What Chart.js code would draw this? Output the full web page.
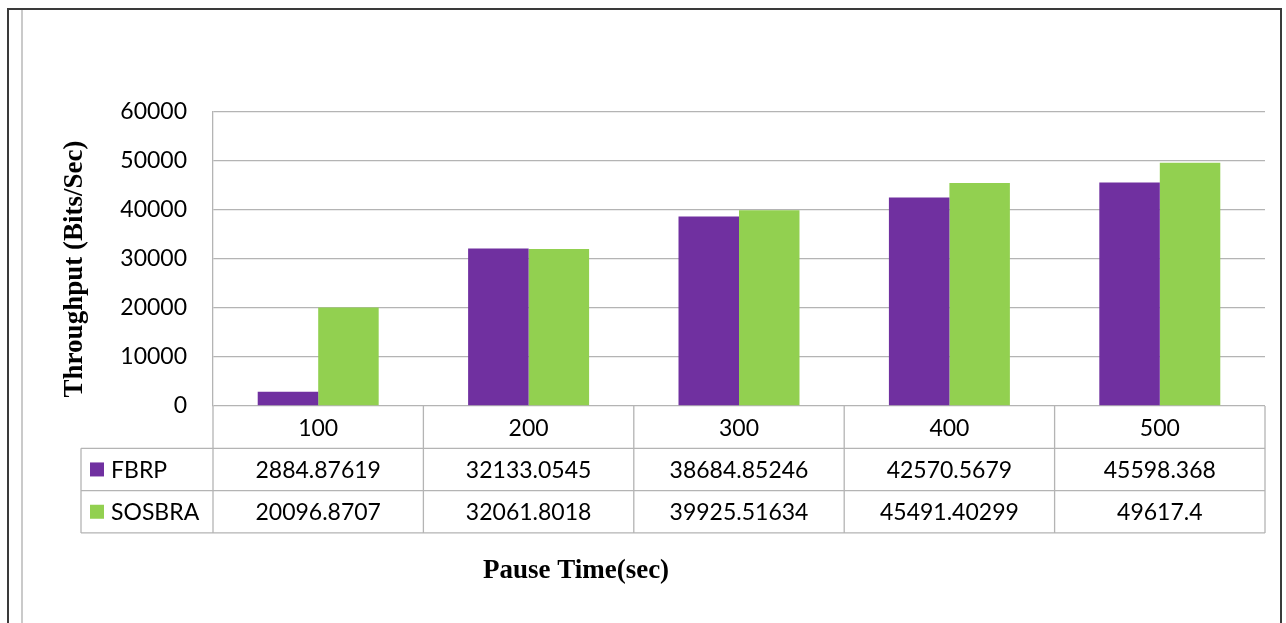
<!DOCTYPE html>
<html>
<head>
<meta charset="utf-8">
<title>Throughput vs Pause Time</title>
<script src="https://cdn.jsdelivr.net/npm/chart.js@4.4.1/dist/chart.umd.min.js"></script>
<style>
  html, body { margin: 0; padding: 0; background: #ffffff; }
  #wrap { width: 1286px; height: 623px; position: relative; }
</style>
</head>
<body>
<div id="wrap"><canvas id="chart" width="1286" height="623"></canvas></div>
<script>
// Pause time categories (sec)
const categories = ['100', '200', '300', '400', '500'];
// Throughput in bits/sec per protocol
const fbrpValues = [2884.87619, 32133.0545, 38684.85246, 42570.5679, 45598.368];
const sosbraValues = [20096.8707, 32061.8018, 39925.51634, 45491.40299, 49617.4];
const seriesNames = ['FBRP', 'SOSBRA'];
const seriesColors = ['#7030A0', '#92D050'];
const yTitle = 'Throughput (Bits/Sec)';
const xTitle = 'Pause Time(sec)';

const tableFont = '23px Lato, "Open Sans", sans-serif';
const lineGray = '#b4b4b4';

// Frame around the figure
const framePlugin = {
  id: 'frame',
  beforeDraw(chart) {
    const ctx = chart.ctx;
    ctx.save();
    ctx.fillStyle = '#ffffff';
    ctx.fillRect(0, 0, chart.width, chart.height);
    ctx.strokeStyle = '#3a3a3a';
    ctx.lineWidth = 2;
    ctx.beginPath();
    ctx.moveTo(8, chart.height);
    ctx.lineTo(8, 9);
    ctx.lineTo(1281, 9);
    ctx.lineTo(1281, chart.height);
    ctx.stroke();
    ctx.strokeStyle = '#b8b8b8';
    ctx.lineWidth = 1.5;
    ctx.beginPath();
    ctx.moveTo(22, 10);
    ctx.lineTo(22, chart.height);
    ctx.stroke();
    ctx.restore();
  }
};

// Data table under the plot plus the axis titles
const tablePlugin = {
  id: 'dataTable',
  afterDraw(chart) {
    const ctx = chart.ctx;
    const area = chart.chartArea;
    const n = categories.length;
    const colW = (area.right - area.left) / n;
    const rowH = 42.3;
    const top = area.bottom;
    const legendLeft = 81;
    const rows = [fbrpValues, sosbraValues];
    ctx.save();
    ctx.strokeStyle = lineGray;
    ctx.lineWidth = 1.3;
    ctx.beginPath();
    // vertical column lines
    for (let i = 0; i <= n; i++) {
      const x = area.left + i * colW;
      ctx.moveTo(x, top);
      ctx.lineTo(x, top + rowH * 3);
    }
    // left edge of the series label column
    ctx.moveTo(legendLeft, top + rowH);
    ctx.lineTo(legendLeft, top + rowH * 3);
    // horizontal row lines
    for (let r = 1; r <= 3; r++) {
      const y = top + r * rowH;
      ctx.moveTo(legendLeft, y);
      ctx.lineTo(area.right, y);
    }
    ctx.stroke();

    ctx.fillStyle = '#000000';
    ctx.font = tableFont;
    ctx.textAlign = 'center';
    ctx.textBaseline = 'middle';
    for (let i = 0; i < n; i++) {
      const cx = area.left + (i + 0.5) * colW;
      ctx.fillText(categories[i], cx, top + rowH * 0.5 + 1);
      rows.forEach((vals, r) => {
        ctx.fillText(String(vals[i]), cx, top + rowH * (r + 1.5) + 1);
      });
    }
    // series keys
    ctx.textAlign = 'left';
    seriesNames.forEach((name, r) => {
      const cy = top + rowH * (r + 1.5);
      ctx.fillStyle = seriesColors[r];
      ctx.fillRect(90, cy - 7, 14, 14);
      ctx.fillStyle = '#000000';
      ctx.fillText(name, 111, cy + 1);
    });

    // axis titles
    ctx.font = 'bold 27px "Liberation Serif", "Times New Roman", serif';
    ctx.textAlign = 'center';
    ctx.textBaseline = 'middle';
    ctx.fillText(xTitle, 576, 571);
    ctx.translate(75, 269);
    ctx.rotate(-Math.PI / 2);
    ctx.fillText(yTitle, 0, 0);
    ctx.restore();
  }
};

new Chart(document.getElementById('chart'), {
  type: 'bar',
  data: {
    labels: categories,
    datasets: [
      { label: seriesNames[0], data: fbrpValues, backgroundColor: seriesColors[0], borderWidth: 0 },
      { label: seriesNames[1], data: sosbraValues, backgroundColor: seriesColors[1], borderWidth: 0 }
    ]
  },
  options: {
    responsive: false,
    animation: false,
    events: [],
    layout: { padding: { top: 112, right: 21, bottom: 217, left: 0 } },
    plugins: { legend: { display: false }, tooltip: { enabled: false } },
    datasets: { bar: { categoryPercentage: 0.575, barPercentage: 1.0 } },
    scales: {
      x: { display: false },
      y: {
        min: 0,
        max: 60000,
        afterFit(scale) { scale.width = 213; },
        ticks: {
          stepSize: 10000,
          color: '#000000',
          font: { family: 'Lato, "Open Sans", sans-serif', size: 23 },
          padding: 26,
          callback: (v) => String(v)
        },
        grid: { color: lineGray, lineWidth: 1.3, drawTicks: false },
        border: { display: true, color: lineGray, width: 1.3 }
      }
    }
  },
  plugins: [framePlugin, tablePlugin]
});
</script>
</body>
</html>
